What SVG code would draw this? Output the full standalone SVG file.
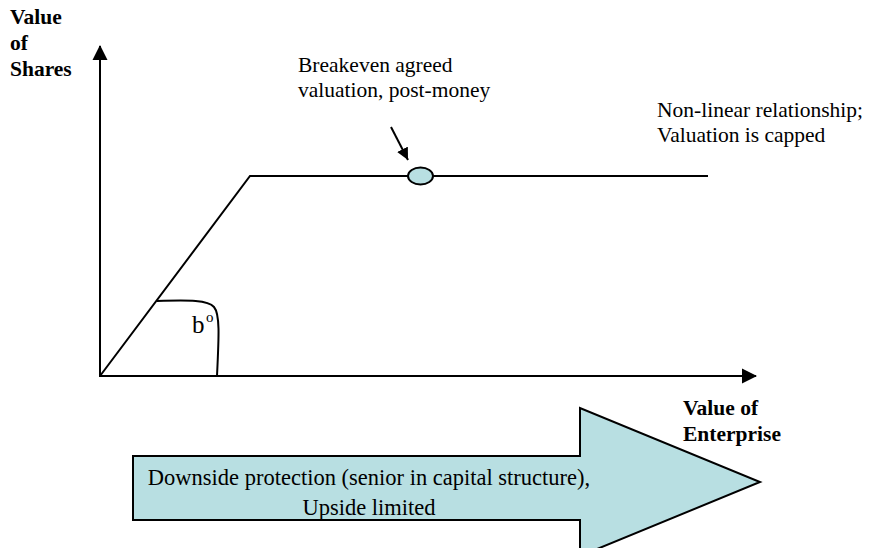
<svg xmlns="http://www.w3.org/2000/svg" width="879" height="548" viewBox="0 0 879 548">
<style>
.ln{fill:none;stroke:#000;stroke-width:2}
text{font-family:'Liberation Serif','DejaVu Serif','Times New Roman',serif;fill:#000}
.serif{font-size:21.5px}
.bold{font-size:21.5px;font-weight:bold}
.fillb{fill:#b8dfe2;stroke:#000;stroke-width:2}
</style>
<defs>
<marker id="ah" markerWidth="16" markerHeight="16" refX="14" refY="8" orient="auto" markerUnits="userSpaceOnUse">
<path d="M0,0.5 L15,8 L0,15.5 Z" fill="#000"/>
</marker>
<marker id="ahs" markerWidth="14" markerHeight="14" refX="12" refY="6" orient="auto" markerUnits="userSpaceOnUse">
<path d="M0,0 L12,6 L0,12 Z" fill="#000"/>
</marker>
<clipPath id="bodyclip"><rect x="130" y="400" width="640" height="119"/></clipPath>
</defs>
<rect width="879" height="548" fill="#fff"/>
<g id="connectors">
<line class="ln" x1="100" y1="377" x2="100" y2="46" marker-end="url(#ah)"/>
<line class="ln" x1="99" y1="376" x2="756" y2="376" marker-end="url(#ah)"/>
<polyline class="ln" points="100,376 250,176 708,176"/>
<path class="ln" d="M157,301 C190,300 208,300 214,307 C220,314 219,335 217,376"/>
<line class="ln" x1="391" y1="127" x2="408" y2="160" marker-end="url(#ahs)"/>
</g>
<g id="y-axis-label" font-family="Liberation Serif, serif">
<text class="bold" x="10" y="24">Value</text>
<text class="bold" x="10" y="50">of</text>
<text class="bold" x="10" y="76">Shares</text>
</g>
<g id="x-axis-label" font-family="Liberation Serif, serif">
<text class="bold" x="683" y="415">Value of</text>
<text class="bold" x="683" y="441">Enterprise</text>
</g>
<g id="angle-label" font-family="Liberation Serif, serif">
<text x="192" y="333" font-size="25">b</text>
<text x="206" y="322" font-size="15">o</text>
</g>
<g id="breakeven-point">
<ellipse class="fillb" cx="420.5" cy="176" rx="12.5" ry="8.5"/>
</g>
<g id="breakeven-label" font-family="Liberation Serif, serif">
<text class="serif" x="298" y="72">Breakeven agreed</text>
<text class="serif" x="298" y="97">valuation, post-money</text>
</g>
<g id="cap-label" font-family="Liberation Serif, serif">
<text class="serif" x="657" y="117">Non-linear relationship;</text>
<text class="serif" x="657" y="142">Valuation is capped</text>
</g>
<g id="big-arrow" font-family="Liberation Serif, serif">
<path class="fillb" d="M133,456 L580,456 L580,408 L760,482 L580,556 L580,520 L133,520 Z"/>
<g clip-path="url(#bodyclip)">
<text x="369" y="485" text-anchor="middle" font-size="22.5">Downside protection (senior in capital structure),</text>
<text x="369" y="515" text-anchor="middle" font-size="22.5">Upside limited</text>
</g>
</g>
</svg>
